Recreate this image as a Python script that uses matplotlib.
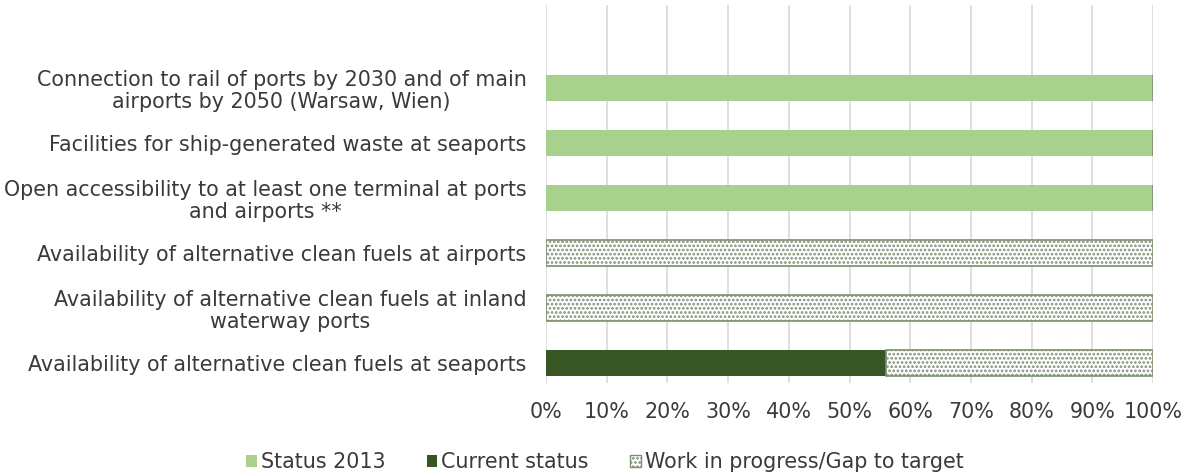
import numpy as np
import matplotlib.pyplot as plt
from matplotlib.patches import Patch

# Categories listed top to bottom
categories = [
    "Connection to rail of ports by 2030 and of main\nairports by 2050 (Warsaw, Wien)",
    "Facilities for ship-generated waste at seaports",
    "Open accessibility to at least one terminal at ports\nand airports **",
    "Availability of alternative clean fuels at airports",
    "Availability of alternative clean fuels at inland\nwaterway ports",
    "Availability of alternative clean fuels at seaports",
]
status_2013 = [100, 100, 100, 0, 0, 0]
current_status = [0, 0, 0, 0, 0, 56]
gap_to_target = [0, 0, 0, 100, 100, 44]

light_green = "#a9d18e"
dark_green = "#375623"
hatch_col = "#7d8f72"
text_col = "#3a3a3a"
fs = 14.9

plt.rcParams["font.family"] = "DejaVu Sans"
plt.rcParams["hatch.linewidth"] = 1.3

fig = plt.figure(figsize=(11.86, 4.75), dpi=100)
ax = fig.add_axes([0.4604, 0.1937, 0.5118, 0.795])

y = np.arange(len(categories))[::-1]
h = 0.47

ax.barh(y, status_2013, height=h, color=light_green, zorder=3)
ax.barh(y, current_status, left=status_2013, height=h, color=dark_green, zorder=3)
left_gap = np.array(status_2013) + np.array(current_status)
ax.barh(y, gap_to_target, left=left_gap, height=h, facecolor="white",
        edgecolor=hatch_col, hatch="....", linewidth=1.2, zorder=3)

ax.set_xlim(0, 100)
ax.set_ylim(-0.36, 6.51)
ax.set_xticks(np.arange(0, 101, 10))
ax.set_xticklabels([f"{v}%" for v in range(0, 101, 10)], fontsize=fs, color=text_col)
ax.set_yticks(y)
ax.set_yticklabels(categories, fontsize=fs, color=text_col,
                   multialignment="center", linespacing=1.1)
ax.tick_params(axis="y", length=0, pad=14)
ax.tick_params(axis="x", length=0, pad=14)
ax.grid(axis="x", color="#d9d9d9", linewidth=1.2, zorder=0)
for s in ax.spines.values():
    s.set_visible(False)

handles = [
    Patch(facecolor=light_green, label="Status 2013"),
    Patch(facecolor=dark_green, label="Current status"),
    Patch(facecolor="white", edgecolor=hatch_col, hatch="....", label="Work in progress/Gap to target"),
]
fig.legend(handles=handles, loc="center", bbox_to_anchor=(0.51, 0.027), ncol=3,
           frameon=False, fontsize=fs, handlelength=0.5, handleheight=0.5,
           handletextpad=0.2, columnspacing=2.0, labelcolor=text_col)

fig.savefig("out.png", dpi=100)
